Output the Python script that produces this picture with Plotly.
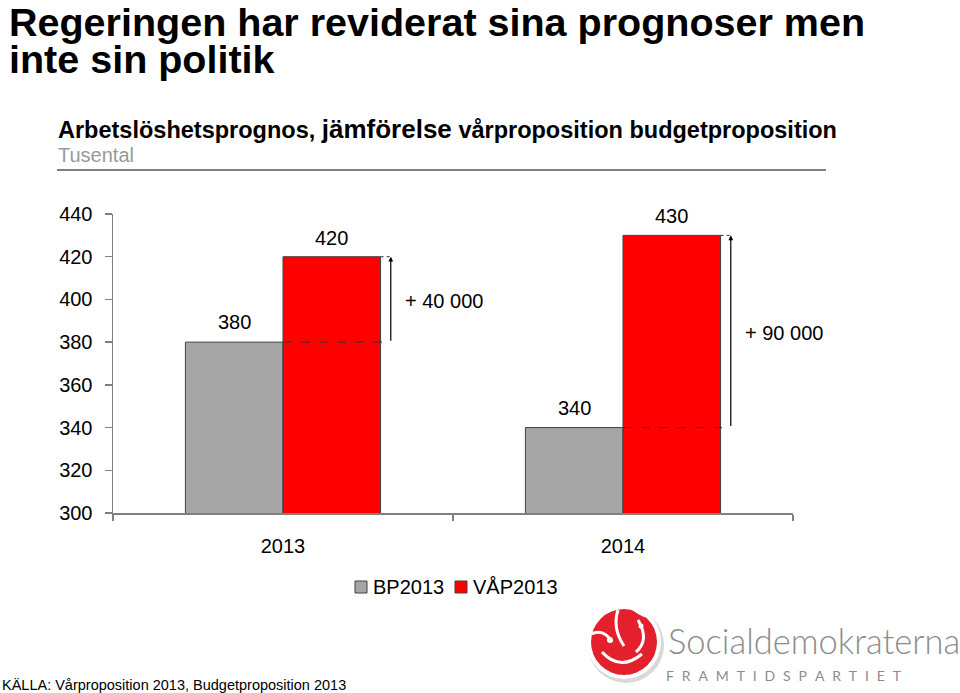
import plotly.graph_objects as go

# ---- data ----
categories = ["2013", "2014"]
series_names = ["BP2013", "VÅP2013"]
bp2013 = [380, 340]
vap2013 = [420, 430]
y_ticks = [300, 320, 340, 360, 380, 400, 420, 440]
title_lines = ["Regeringen har reviderat sina prognoser men", "inte sin politik"]
source_text = "KÄLLA: Vårproposition 2013, Budgetproposition 2013"

W, H = 960, 693
def px(x):
    return x / W
def py(y):
    return 1 - y / H

GRAY = "#A6A6A6"
RED = "#FF0000"
AXIS = "#808080"
SANS = "Liberation Sans, Arial, sans-serif"
BARGAP = 0.426
w = (1 - BARGAP) / 2  # width of one bar in category units
colors = [GRAY, RED]

fig = go.Figure()
for name, vals, col in zip(series_names, [bp2013, vap2013], colors):
    fig.add_trace(go.Bar(name=name, x=categories, y=vals, showlegend=False, hoverinfo="skip",
                         marker=dict(color=col, line=dict(color="#404040", width=1))))

annotations = []
shapes = []
LBL = dict(family=SANS, size=20, color="#000")
for i, (b, v) in enumerate(zip(bp2013, vap2013)):
    gx = i - w / 2
    rx = i + w / 2
    arrow_x = i + w + 0.03
    annotations.append(dict(x=gx, y=b, xref="x", yref="y", text=str(b), showarrow=False,
                            yanchor="bottom", yshift=7, font=LBL))
    annotations.append(dict(x=rx, y=v, xref="x", yref="y", text=str(v), showarrow=False,
                            yanchor="bottom", yshift=6, font=LBL))
    annotations.append(dict(x=arrow_x, y=v, ax=arrow_x, ay=b, xref="x", yref="y",
                            axref="x", ayref="y", text="", showarrow=True,
                            arrowhead=2, arrowsize=0.8, arrowwidth=1.2, arrowcolor="#000"))
    diff = f"+ {int((v - b) * 1000):,}".replace(",", " ")
    annotations.append(dict(x=arrow_x, y=(b + v) / 2, xref="x", yref="y", text=diff,
                            showarrow=False, xanchor="left", xshift=12, yshift=-2, font=LBL))
    shapes.append(dict(type="line", xref="x", yref="y", x0=i, x1=arrow_x, y0=b, y1=b,
                       line=dict(color="#333", width=1, dash="dash")))
    shapes.append(dict(type="line", xref="x", yref="y", x0=i + w, x1=arrow_x, y0=v, y1=v,
                       line=dict(color="#333", width=1, dash="dot")))

# legend (custom, to match spacing)
leg_x = [355, 455]
for name, col, lx in zip(series_names, colors, leg_x):
    shapes.append(dict(type="rect", xref="paper", yref="paper",
                       x0=px(lx), x1=px(lx + 12), y0=py(593), y1=py(581),
                       fillcolor=col, line=dict(color="#404040", width=1)))
    annotations.append(dict(x=px(lx + 16), y=py(587), xref="paper", yref="paper", text=name,
                            showarrow=False, xanchor="left", yanchor="middle", font=LBL))

# title
for line, yy in zip(title_lines, [22, 59]):
    annotations.append(dict(x=px(8), y=py(yy), xref="paper", yref="paper", text="<b>" + line + "</b>",
                            showarrow=False, xanchor="left", yanchor="middle", borderpad=0,
                            font=dict(family=SANS, size=39.5, color="#000")))
# subtitle
annotations.append(dict(x=px(56), y=py(129), xref="paper", yref="paper",
                        text="<b>Arbetslöshetsprognos, <span style='font-size:26px'>jämförelse</span></b> "
                             "<span style='font-weight:600'>vårproposition budgetproposition</span>",
                        showarrow=False, xanchor="left", yanchor="middle",
                        font=dict(family=SANS, size=23.5, color="#000")))
annotations.append(dict(x=px(56), y=py(155), xref="paper", yref="paper", text="Tusental",
                        showarrow=False, xanchor="left", yanchor="middle",
                        font=dict(family=SANS, size=20, color="#999999")))
shapes.append(dict(type="line", xref="paper", yref="paper", x0=px(57), x1=px(826), y0=py(170), y1=py(170),
                   line=dict(color="#000", width=1)))

# source
annotations.append(dict(x=0, y=py(685), xref="paper", yref="paper", text=source_text,
                        showarrow=False, xanchor="left", yanchor="middle",
                        font=dict(family=SANS, size=14.5, color="#000")))

# logo text
annotations.append(dict(x=px(666), y=py(640), xref="paper", yref="paper", text="Socialdemokraterna",
                        showarrow=False, xanchor="left", yanchor="middle",
                        font=dict(family="Lato, Open Sans, sans-serif", size=34.5, color="#8C8C8C", weight=300)))
annotations.append(dict(x=px(664), y=py(675), xref="paper", yref="paper",
                        text="\u2002\u200a".join("FRAMTIDSPARTIET"),
                        showarrow=False, xanchor="left", yanchor="middle",
                        font=dict(family="Lato, Open Sans, sans-serif", size=14, color="#8C8C8C")))

# logo emblem (decorative)
def circ(cx, cy, r, **kw):
    return dict(type="circle", xref="paper", yref="paper",
                x0=px(cx - r), x1=px(cx + r), y0=py(cy + r), y1=py(cy - r), **kw)

shapes.append(circ(626, 645, 38, fillcolor="#D8D8D8", line=dict(width=0)))
shapes.append(circ(624, 642, 37, fillcolor="#FFFFFF", line=dict(width=0)))
shapes.append(circ(624, 642, 33, fillcolor="#E3202C", line=dict(width=0)))

white = dict(color="#FFFFFF", width=3)
def qpath(p0, c, p1):
    return dict(type="path", xref="paper", yref="paper",
                path=f"M {px(p0[0])},{py(p0[1])} Q {px(c[0])},{py(c[1])} {px(p1[0])},{py(p1[1])}",
                line=white)
shapes.append(qpath((602, 652), (620, 672), (642, 654)))   # smile
shapes.append(qpath((618, 610), (612, 628), (624, 646)))   # centre petal
shapes.append(qpath((638, 620), (650, 640), (636, 652)))   # right petal
shapes.append(qpath((591, 634), (604, 628), (612, 642)))   # left petal
shapes.append(qpath((632, 608), (640, 614), (646, 616)))   # top petal
shapes.append(circ(610, 640, 3, fillcolor="#FFFFFF", line=dict(width=0)))
shapes.append(circ(641, 626, 2.5, fillcolor="#FFFFFF", line=dict(width=0)))

fig.update_layout(
    template="none",
    width=W, height=H, autosize=False,
    margin=dict(l=0, r=0, t=0, b=0, pad=0, autoexpand=False),
    paper_bgcolor="white", plot_bgcolor="white",
    barmode="group", bargap=BARGAP, bargroupgap=0,
    showlegend=False,
    xaxis=dict(domain=[px(113), px(793)], range=[-0.5, 1.5], type="category", automargin=False,
               showline=True, linecolor=AXIS, linewidth=1.5,
               ticks="outside", tickson="boundaries", ticklen=6, tickcolor=AXIS, tickwidth=1.5,
               tickfont=dict(family=SANS, size=20, color="#000"), ticklabelstandoff=14,
               showgrid=False, zeroline=False, fixedrange=True),
    yaxis=dict(domain=[py(513), py(214)], range=[300, 440], tickvals=y_ticks, automargin=False,
               showline=True, linecolor=AXIS, linewidth=1.5,
               ticks="outside", ticklen=7, tickcolor=AXIS, tickwidth=1.5,
               tickfont=dict(family=SANS, size=20, color="#000"), ticklabelstandoff=8,
               showgrid=False, zeroline=False, fixedrange=True),
    annotations=annotations,
    shapes=shapes,
)

fig.write_html("out.html", config={"displayModeBar": False, "staticPlot": True},
               post_script="document.body.style.margin='0px';document.body.style.overflow='hidden';")
